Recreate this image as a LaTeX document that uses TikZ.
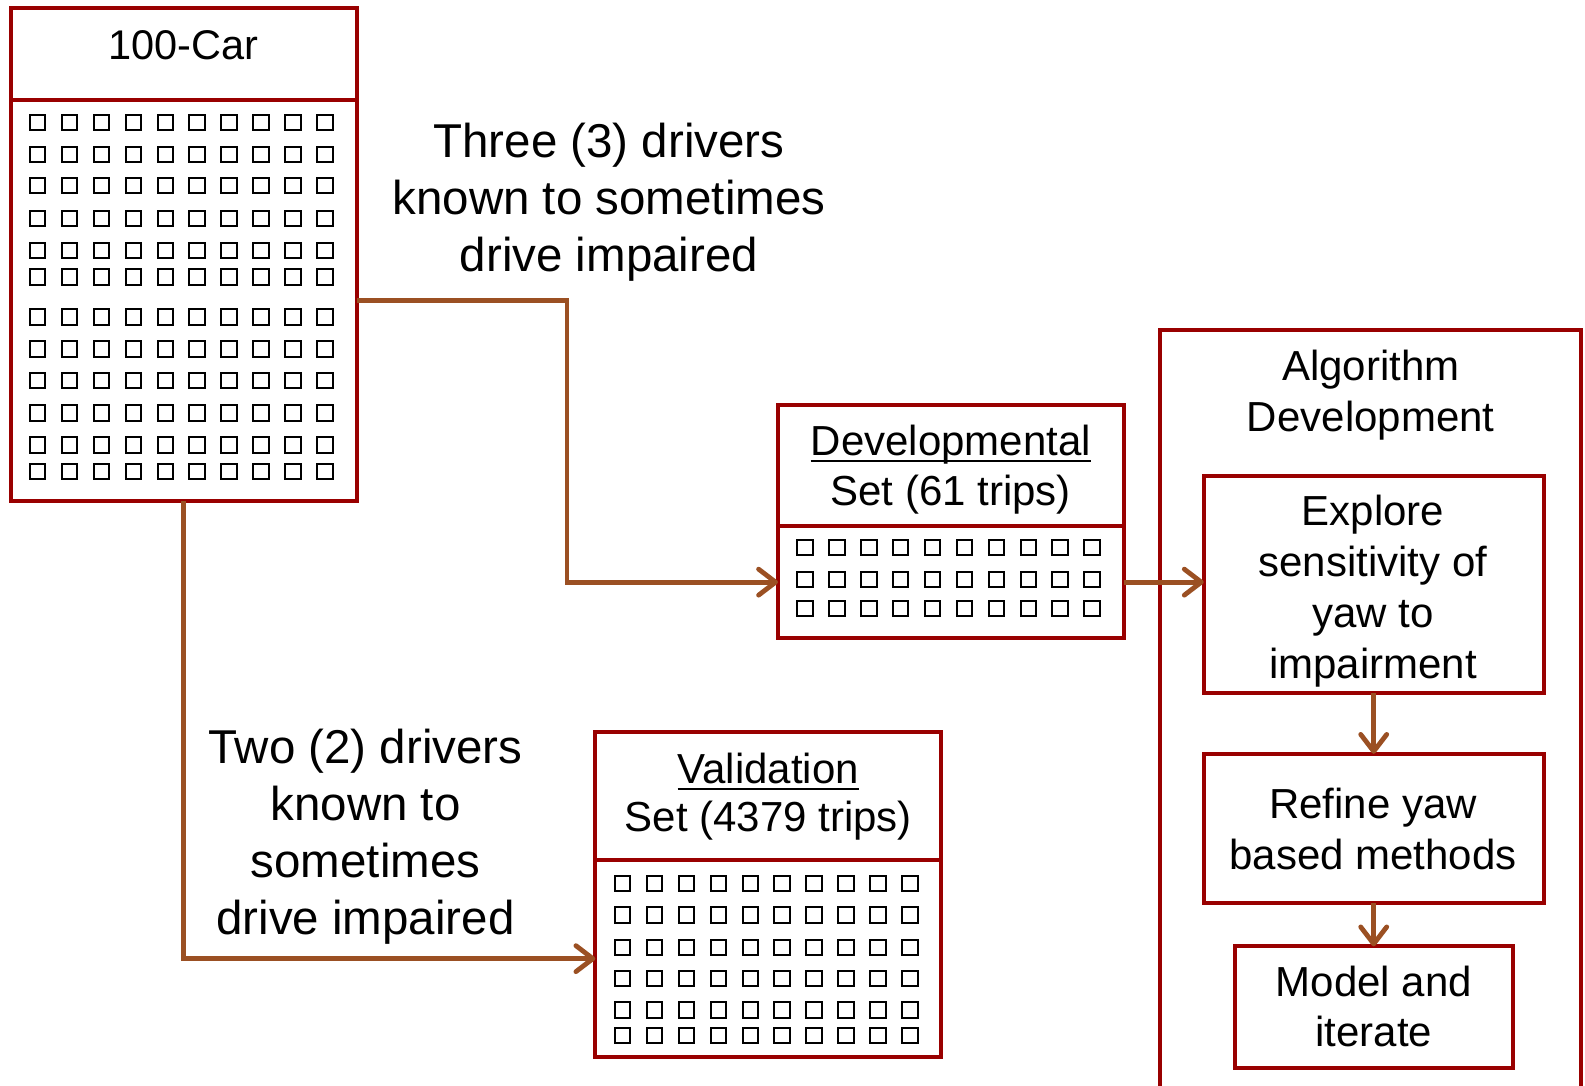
\documentclass[tikz,border=0pt]{standalone}
\usepackage{fontspec}
\setmainfont{Liberation Sans}
\usetikzlibrary{arrows.meta}
\definecolor{boxred}{RGB}{153,0,0}
\definecolor{arrowbrown}{RGB}{155,80,35}
\newcommand\ulword[1]{\setbox0\hbox{#1}\rlap{\rule[-7pt]{\wd0}{2pt}}\box0}
\begin{document}
\begin{tikzpicture}[x=1pt,y=-1pt,
  redbox/.style={draw=boxred, line width=4pt, inner sep=0pt, outer sep=0pt},
  conn/.style={draw=arrowbrown, line width=4.8pt, -{Straight Barb[round,length=17pt,width=26pt]}},
  txt/.style={align=center, inner sep=0pt, font=\fontsize{42pt}{50pt}\selectfont},
  bigtxt/.style={align=center, inner sep=0pt, font=\fontsize{47.5pt}{57pt}\selectfont},
  sq/.style={draw=black, line width=2pt}]
\useasboundingbox (0,0) rectangle (1585,1086);

% ---- 100-Car ----
\node[redbox, minimum width=346pt, minimum height=91.7pt] (carhead) at (183.5,53.85) {};
\node[redbox, minimum width=346pt, minimum height=401.3pt] (carbody) at (183.5,300.35) {};
\node[txt, font=\fontsize{41.5pt}{49pt}\selectfont] (cartitle) at (183.5,50.2) {\strut 100-Car};
\foreach \r in {122.3,154.3,185.7,218.3,250.3,277,317,349,380.3,413,445,471.7}
  \foreach \c in {0,...,9}
    \draw[sq] ({37.7+31.9*\c-7.75},{\r-7.75}) rectangle ++(15.5,15.5);

% ---- Developmental ----
\node[redbox, minimum width=345.7pt, minimum height=121pt] (devhead) at (950.85,465.8) {};
\node[redbox, minimum width=345.7pt, minimum height=111.7pt] (devbody) at (950.85,582.15) {};
\node[txt] (devtxt) at (950.8,470) {\strut\ulword{Developmental}\\\strut Set (61 trips)};
\foreach \r in {547.3,579.3,608.3}
  \foreach \c in {0,...,9}
    \draw[sq] ({805+31.9*\c-7.75},{\r-7.75}) rectangle ++(15.5,15.5);

% ---- Validation ----
\node[redbox, minimum width=346pt, minimum height=128.3pt] (valhead) at (768.3,796.15) {};
\node[redbox, minimum width=346pt, minimum height=196.7pt] (valbody) at (768.3,958.65) {};
\node[txt, font=\fontsize{42pt}{48.5pt}\selectfont] (valtxt) at (768.3,797.9) {\strut\ulword{Validation}\\\strut Set (4379 trips)};
\foreach \r in {883.3,915,947.3,978.3,1010,1035.7}
  \foreach \c in {0,...,9}
    \draw[sq] ({622.7+31.9*\c-7.75},{\r-7.75}) rectangle ++(15.5,15.5);

% ---- Algorithm development ----
\node[redbox, minimum width=420.4pt, minimum height=770pt] (algo) at (1370.5,715) {};
\node[txt, font=\fontsize{42pt}{50.4pt}\selectfont] (algotxt) at (1370.7,396.1) {\strut Algorithm\\\strut Development};
\node[redbox, minimum width=340pt, minimum height=217pt] (explore) at (1373.7,584.3) {};
\node[txt, font=\fontsize{42pt}{51.3pt}\selectfont] (exploretxt) at (1373,591.7) {\strut Explore\\\strut sensitivity of\\\strut yaw to\\\strut impairment};
\node[redbox, minimum width=340pt, minimum height=149.5pt] (refine) at (1373.7,828.55) {};
\node[txt, font=\fontsize{42pt}{51.3pt}\selectfont] (refinetxt) at (1373,833.7) {\strut Refine yaw\\\strut based methods};
\node[redbox, minimum width=277.7pt, minimum height=122.1pt] (model) at (1374.15,1007.35) {};
\node[txt, font=\fontsize{42pt}{50.3pt}\selectfont] (modeltxt) at (1373.9,1011.7) {\strut Model and\\\strut iterate};

% ---- side labels ----
\node[bigtxt] (threetxt) at (609,203.1) {\strut Three (3) drivers\\\strut known to sometimes\\\strut drive impaired};
\node[bigtxt] (twotxt) at (365.5,837.1) {\strut Two (2) drivers\\\strut known to\\\strut sometimes\\\strut drive impaired};

% ---- connectors ----
\draw[conn] (carbody.east) -- ++(210.5,0) |- (devbody.west);
\draw[conn] (carbody.south) |- (valbody.west);
\draw[conn] (devbody.east) -- (devbody.east -| explore.west);
\draw[conn] (explore.south) -- (refine.north);
\draw[conn] (refine.south) -- (refine.south |- model.north);
\end{tikzpicture}
\end{document}
